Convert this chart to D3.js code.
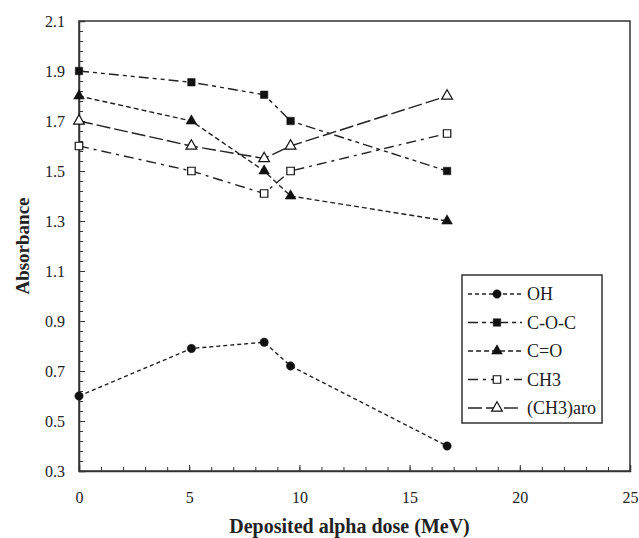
<!DOCTYPE html>
<html>
<head>
<meta charset="utf-8">
<script src="https://cdn.jsdelivr.net/npm/d3@7"></script>
<style>
  body { margin: 0; background: #fff; }
  svg { display: block; }
  svg text { font-family: "Liberation Serif", "DejaVu Serif", "Times New Roman", Times, serif; fill: #222; }
</style>
</head>
<body>
<div id="root"></div>
<script>
// deposited alpha dose (MeV)
const doses = [0, 5.1, 8.4, 9.6, 16.7];

const ohValues = [0.6, 0.79, 0.815, 0.72, 0.4];
const cocValues = [1.9, 1.855, 1.805, 1.7, 1.5];
const coValues = [1.8, 1.7, 1.5, 1.4, 1.3];
const ch3Values = [1.6, 1.5, 1.41, 1.5, 1.65];
const ch3aroValues = [1.7, 1.6, 1.55, 1.6, 1.8];

const seriesNames = ["OH", "C-O-C", "C=O", "CH3", "(CH3)aro"];

const xTicks = [0, 5, 10, 15, 20, 25];
const yTicks = [0.3, 0.5, 0.7, 0.9, 1.1, 1.3, 1.5, 1.7, 1.9, 2.1];

const series = [
  { name: seriesNames[0], values: ohValues, symbol: d3.symbolCircle, filled: true, dash: "4,3" },
  { name: seriesNames[1], values: cocValues, symbol: d3.symbolSquare, filled: true, dash: "10,4,4,4,4,4" },
  { name: seriesNames[2], values: coValues, symbol: d3.symbolTriangle, filled: true, dash: "5,3" },
  { name: seriesNames[3], values: ch3Values, symbol: d3.symbolSquare, filled: false, dash: "10,5,3,5" },
  { name: seriesNames[4], values: ch3aroValues, symbol: d3.symbolTriangle, filled: false, dash: "14,4" },
];

const serif = "'Liberation Serif', 'DejaVu Serif', 'Times New Roman', serif";

const W = 639, H = 538;
const margin = { top: 21, right: 9, bottom: 67, left: 79 };
const width = W - margin.left - margin.right;
const height = H - margin.top - margin.bottom;

const svg = d3.select("#root").append("svg")
  .attr("width", W)
  .attr("height", H);

const g = svg.append("g").attr("transform", `translate(${margin.left},${margin.top})`);

const x = d3.scaleLinear().domain([0, 25]).range([0, width]);
const y = d3.scaleLinear().domain([0.3, 2.1]).range([height, 0]);

// minor ticks
g.append("g")
  .attr("transform", `translate(0,${height})`)
  .call(d3.axisBottom(x).tickValues(d3.range(0, 26, 1)).tickSize(-4).tickFormat(""))
  .call(a => a.select(".domain").remove());
g.append("g")
  .call(d3.axisLeft(y).tickValues(d3.range(0, 46).map(i => 0.3 + i * 0.04)).tickSize(-4).tickFormat(""))
  .call(a => a.select(".domain").remove());

// plot border
g.append("rect")
  .attr("width", width).attr("height", height)
  .attr("fill", "none").attr("stroke", "#333").attr("stroke-width", 1.5);

// major axes
const xAxis = g.append("g")
  .attr("transform", `translate(0,${height})`)
  .call(d3.axisBottom(x).tickValues(xTicks).tickSize(-6).tickPadding(21).tickFormat(d3.format("d")));
const yAxis = g.append("g")
  .call(d3.axisLeft(y).tickValues(yTicks).tickSize(-6).tickPadding(14).tickFormat(d3.format(".1f")));

[xAxis, yAxis].forEach(a => {
  a.attr("font-family", serif).attr("font-size", 16);
  a.select(".domain").attr("stroke", "#333").attr("stroke-width", 1.5);
  a.selectAll("text").attr("fill", "#222");
});
g.selectAll(".tick line").attr("stroke", "#333");

// axis titles
svg.append("text")
  .attr("x", margin.left + width / 2 - 5)
  .attr("y", 533)
  .attr("text-anchor", "middle")
  .attr("font-family", serif)
  .attr("font-size", 20)
  .attr("font-weight", "bold")
  .text("Deposited alpha dose (MeV)");

svg.append("text")
  .attr("transform", `translate(29,${margin.top + height / 2}) rotate(-90)`)
  .attr("text-anchor", "middle")
  .attr("font-family", serif)
  .attr("font-size", 19)
  .attr("font-weight", "bold")
  .text("Absorbance");

const line = d3.line()
  .x((d, i) => x(doses[i]))
  .y(d => y(d));

function sizeOf(sym) {
  if (sym === d3.symbolCircle) return 55;
  if (sym === d3.symbolSquare) return 56;
  return 50;
}

series.forEach(s => {
  g.append("path")
    .datum(s.values)
    .attr("fill", "none")
    .attr("stroke", "#222")
    .attr("stroke-width", 1.4)
    .attr("stroke-dasharray", s.dash)
    .attr("d", line);

  g.selectAll(null)
    .data(s.values)
    .join("path")
    .attr("transform", (d, i) => `translate(${x(doses[i])},${y(d)})`)
    .attr("d", d3.symbol().type(s.symbol).size(sizeOf(s.symbol)))
    .attr("fill", s.filled ? "#111" : "#fff")
    .attr("stroke", "#111")
    .attr("stroke-width", s.filled ? 0.5 : 1.2);
});

// legend
const legend = svg.append("g").attr("transform", "translate(462,275)");
legend.append("rect")
  .attr("width", 140).attr("height", 148)
  .attr("fill", "#fff").attr("stroke", "#333").attr("stroke-width", 1.5);

series.forEach((s, i) => {
  const row = legend.append("g").attr("transform", `translate(0,${19 + i * 28.5})`);
  row.append("line")
    .attr("x1", 6).attr("x2", 60)
    .attr("stroke", "#222").attr("stroke-width", 1.4)
    .attr("stroke-dasharray", s.dash);
  row.append("path")
    .attr("transform", "translate(35,0)")
    .attr("d", d3.symbol().type(s.symbol).size(sizeOf(s.symbol)))
    .attr("fill", s.filled ? "#111" : "#fff")
    .attr("stroke", "#111")
    .attr("stroke-width", s.filled ? 0.5 : 1.2);
  row.append("text")
    .attr("x", 65).attr("y", 6)
    .attr("font-family", serif)
    .attr("font-size", 18)
    .text(s.name);
});
</script>
</body>
</html>
